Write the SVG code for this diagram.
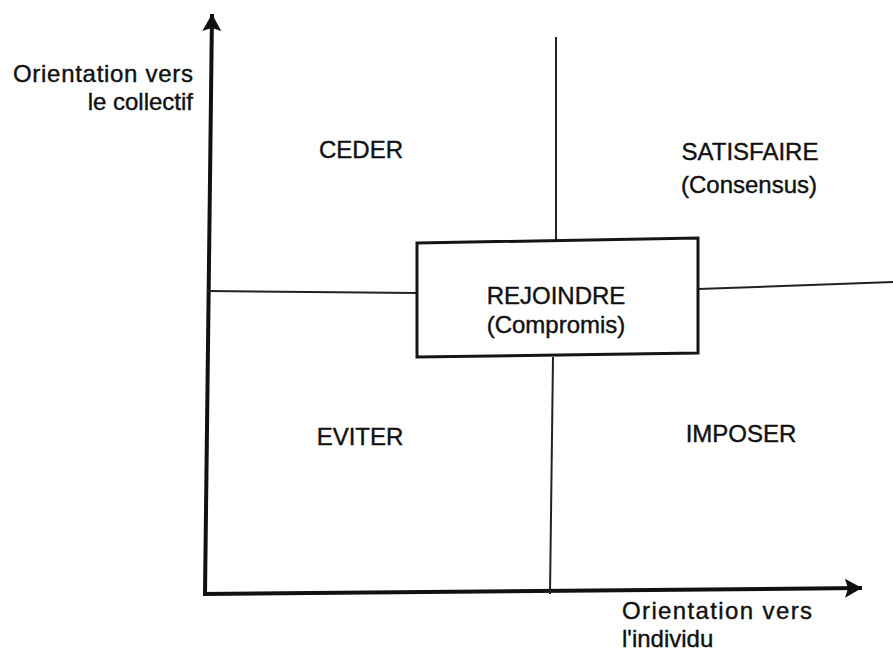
<svg xmlns="http://www.w3.org/2000/svg" width="893" height="653" viewBox="0 0 893 653">
<style>
.t{font-family:"Liberation Sans",Arial,sans-serif;fill:#111;stroke:#111;stroke-width:0.4;}
.ax{stroke:#111;stroke-width:4;fill:none;}
.dv{stroke:#222;stroke-width:2;fill:none;}
.bx{stroke:#151515;stroke-width:3;fill:#fff;}
</style>
<defs>
<marker id="ah" viewBox="-18 -10 20 20" markerWidth="20" markerHeight="20" refX="0" refY="0" orient="auto" markerUnits="userSpaceOnUse">
<path d="M0,0 L-17,-9.5 L-14,0 L-17,9.5 Z" fill="#111"/>
</marker>
</defs>
<rect width="893" height="653" fill="#fff"/>
<g id="connectors">
<line class="ax" x1="205" y1="594" x2="212" y2="14" marker-end="url(#ah)"/>
<line class="ax" x1="203" y1="594" x2="862" y2="588" marker-end="url(#ah)"/>
<line class="dv" x1="556" y1="37" x2="556" y2="240"/>
<line class="dv" x1="553" y1="357" x2="550" y2="594"/>
<line class="dv" x1="207" y1="291" x2="417" y2="293"/>
<line class="dv" x1="698" y1="289" x2="893" y2="282"/>
</g>
<g id="axis-y-label">
<text class="t" x="193" y="82" font-size="24" text-anchor="end" textLength="180" lengthAdjust="spacing">Orientation vers</text>
<text class="t" x="193" y="110" font-size="24" text-anchor="end">le collectif</text>
</g>
<g id="axis-x-label">
<text class="t" x="622" y="619" font-size="24" textLength="190" lengthAdjust="spacing">Orientation vers</text>
<text class="t" x="622" y="647" font-size="24">l'individu</text>
</g>
<g id="ceder">
<text class="t" x="361" y="158" font-size="24" text-anchor="middle">CEDER</text>
</g>
<g id="satisfaire">
<text class="t" x="750" y="160" font-size="24" text-anchor="middle">SATISFAIRE</text>
<text class="t" x="749" y="193" font-size="24" text-anchor="middle">(Consensus)</text>
</g>
<g id="rejoindre">
<polygon class="bx" points="417,243 698,238 698,353 417,357"/>
<text class="t" x="556" y="304" font-size="24" text-anchor="middle">REJOINDRE</text>
<text class="t" x="556" y="333" font-size="24" text-anchor="middle">(Compromis)</text>
</g>
<g id="eviter">
<text class="t" x="360" y="445" font-size="24" text-anchor="middle">EVITER</text>
</g>
<g id="imposer">
<text class="t" x="741" y="442" font-size="24" text-anchor="middle">IMPOSER</text>
</g>
</svg>
